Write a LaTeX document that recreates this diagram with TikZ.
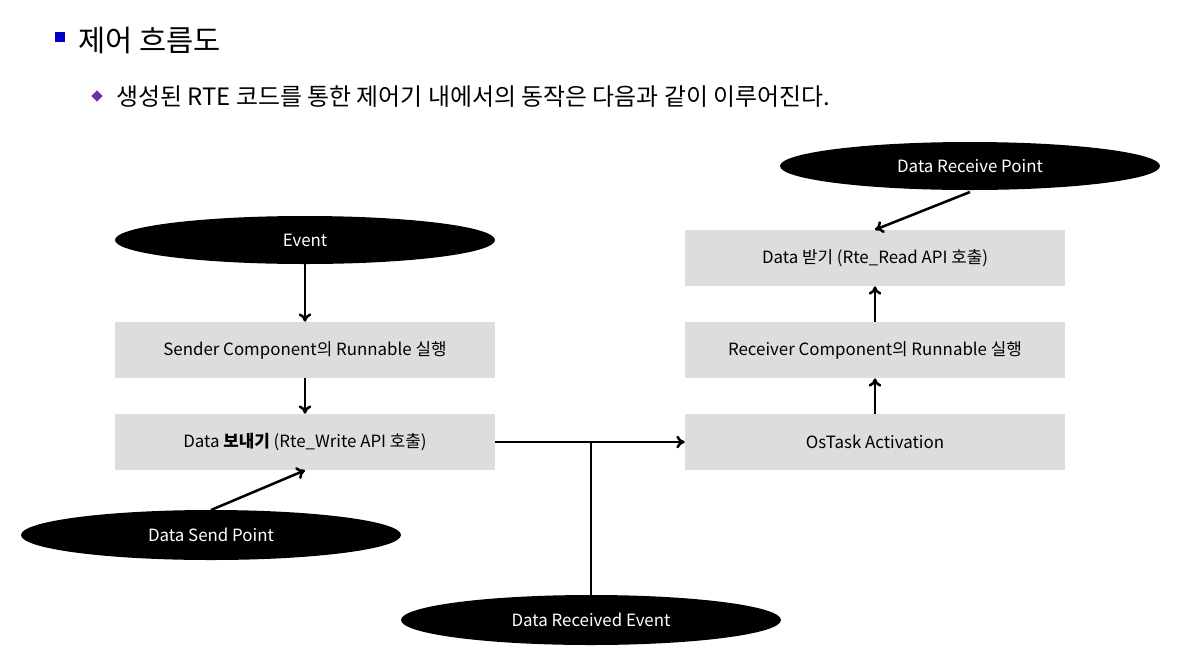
\documentclass[tikz,border=0pt]{standalone}
\usepackage{fontspec}
\setmainfont{Noto Sans CJK KR}
\usetikzlibrary{shapes.geometric,arrows.meta}
\definecolor{boxgray}{RGB}{221,221,221}
\definecolor{bulletblue}{RGB}{0,0,200}
\definecolor{diapurple}{RGB}{112,48,160}
\begin{document}
\begin{tikzpicture}[x=0.025cm,y=-0.025cm,
  ev/.style={ellipse,fill=black,text=white,minimum width=380*0.025cm,minimum height=48*0.025cm,inner sep=0pt,font=\fontsize{12}{14}\selectfont},
  bx/.style={rectangle,fill=boxgray,minimum width=380*0.025cm,minimum height=56*0.025cm,inner sep=0pt,font=\fontsize{12}{14}\selectfont},
  arr/.style={line width=1.8pt,-{To[length=6pt,width=9pt]}},
  ln/.style={line width=1.8pt}]
\useasboundingbox (0,0) rectangle (1197,666);
\node[fill=bulletblue,minimum size=7pt,inner sep=0pt] (b1) at (60,37) {};
\node[anchor=west,font=\fontsize{21}{24}\selectfont,inner sep=0pt] (t1) at (78,40) {제어 흐름도};
\node[fill=diapurple,diamond,minimum size=8pt,inner sep=0pt] (b2) at (97,96) {};
\node[anchor=west,font=\fontsize{17}{20}\selectfont,inner sep=0pt] (t2) at (116,97) {생성된 RTE 코드를 통한 제어기 내에서의 동작은 다음과 같이 이루어진다.};
\node[ev] (event) at (305,240) {Event};
\node[bx] (sender) at (305,350) {Sender Component의 Runnable 실행};
\node[bx] (send) at (305,442) {Data \textbf{보내기} (Rte\_Write API 호출)};
\node[ev,minimum height=50*0.025cm] (sp) at (211,535) {Data Send Point};
\node[ev,minimum height=50*0.025cm] (dre) at (591,620) {Data Received Event};
\node[ev] (rp) at (970,166) {Data Receive Point};
\node[bx] (recv) at (875,258) {Data 받기 (Rte\_Read API 호출)};
\node[bx] (rcomp) at (875,350) {Receiver Component의 Runnable 실행};
\node[bx] (os) at (875,442) {OsTask Activation};
\coordinate (j) at (591,442);
\draw[arr] (event.south) -- (sender.north);
\draw[arr] (sender.south) -- (send.north);
\draw[arr] (211,510) -- (send.south);
\draw[arr] (send.east) -- (os.west);
\draw[ln] (j) -- (dre.north);
\draw[arr] (os.north) -- (rcomp.south);
\draw[arr] (rcomp.north) -- (recv.south);
\draw[arr] (970,192) -- (recv.north);
\end{tikzpicture}
\end{document}
